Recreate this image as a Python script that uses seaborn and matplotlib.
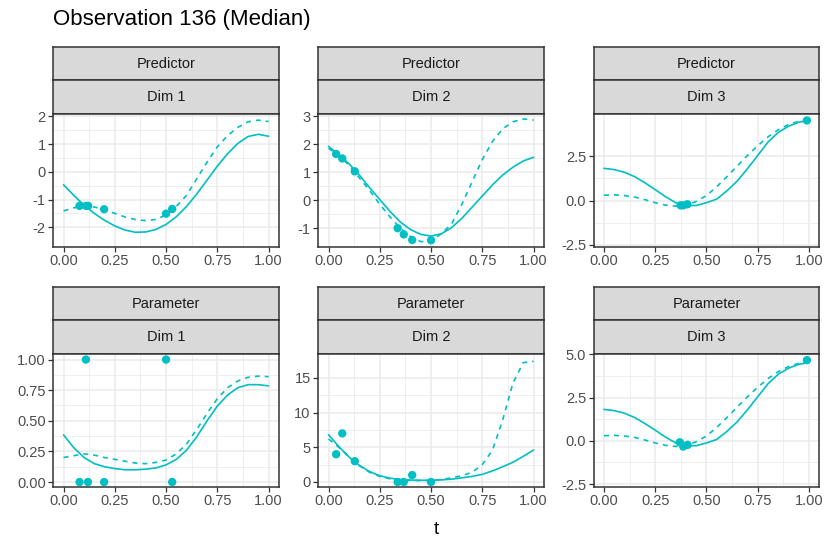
"""Observation 136 (Median): predictor and parameter curves per dimension."""

import matplotlib
matplotlib.use('Agg')
import matplotlib.pyplot as plt
import seaborn as sns
import numpy as np

sns.set_style('white')
plt.rcParams['font.family'] = ['Liberation Sans', 'DejaVu Sans']

TEAL = '#00BFC4'

t_grid = [0.00, 0.05, 0.10, 0.15, 0.20, 0.25, 0.30, 0.35, 0.40, 0.45, 0.50,
          0.55, 0.60, 0.65, 0.70, 0.75, 0.80, 0.85, 0.90, 0.95, 1.00]

# Predictor, Dim 1
pred1_solid = [-0.47, -0.85, -1.20, -1.50, -1.75, -1.95, -2.10, -2.18, -2.17, -2.08, -1.90,
               -1.62, -1.25, -0.80, -0.30, 0.20, 0.65, 1.02, 1.27, 1.35, 1.28]
pred1_dash = [-1.41, -1.30, -1.22, -1.27, -1.36, -1.50, -1.63, -1.72, -1.76, -1.72, -1.55,
              -1.25, -0.85, -0.25, 0.35, 0.90, 1.30, 1.60, 1.80, 1.86, 1.81]
pred1_pt_t = [0.078, 0.11, 0.12, 0.198, 0.50, 0.53]
pred1_pt_y = [-1.23, -1.23, -1.23, -1.35, -1.51, -1.34]

# Predictor, Dim 2
pred2_solid = [1.92, 1.62, 1.30, 0.90, 0.45, 0.02, -0.40, -0.78, -1.05, -1.22, -1.28,
               -1.20, -0.98, -0.65, -0.25, 0.15, 0.55, 0.90, 1.18, 1.40, 1.53]
pred2_dash = [1.85, 1.60, 1.25, 0.80, 0.35, -0.15, -0.60, -1.00, -1.30, -1.48, -1.45,
              -1.20, -0.85, -0.15, 0.65, 1.45, 2.10, 2.55, 2.80, 2.90, 2.86]
pred2_pt_t = [0.037, 0.067, 0.128, 0.337, 0.367, 0.408, 0.50]
pred2_pt_y = [1.65, 1.49, 1.03, -1.00, -1.22, -1.42, -1.43]

# Predictor, Dim 3
pred3_solid = [1.82, 1.75, 1.60, 1.35, 1.00, 0.62, 0.22, -0.12, -0.28, -0.28, -0.12,
               0.08, 0.55, 1.10, 1.80, 2.55, 3.30, 3.85, 4.20, 4.43, 4.53]
pred3_dash = [0.30, 0.32, 0.28, 0.20, 0.05, -0.12, -0.26, -0.32, -0.28, -0.05, 0.28,
              0.78, 1.35, 1.95, 2.55, 3.10, 3.60, 4.00, 4.30, 4.48, 4.55]
pred3_pt_t = [0.374, 0.387, 0.407, 0.99]
pred3_pt_y = [-0.27, -0.27, -0.21, 4.53]

# Parameter, Dim 1
par1_solid = [0.385, 0.28, 0.20, 0.15, 0.125, 0.11, 0.10, 0.10, 0.105, 0.115, 0.14,
              0.185, 0.26, 0.37, 0.50, 0.62, 0.71, 0.77, 0.795, 0.795, 0.785]
par1_dash = [0.20, 0.215, 0.23, 0.22, 0.20, 0.185, 0.17, 0.155, 0.15, 0.16, 0.18,
             0.23, 0.31, 0.43, 0.56, 0.68, 0.77, 0.825, 0.855, 0.865, 0.86]
par1_pt_t = [0.109, 0.50, 0.078, 0.119, 0.198, 0.53]
par1_pt_y = [1.0, 1.0, 0.0, 0.0, 0.0, 0.0]

# Parameter, Dim 2
par2_solid = [6.8, 5.1, 3.6, 2.4, 1.5, 0.9, 0.55, 0.35, 0.28, 0.25, 0.25,
              0.30, 0.40, 0.60, 0.80, 1.10, 1.60, 2.20, 2.85, 3.70, 4.60]
par2_dash = [6.2, 5.0, 3.6, 2.35, 1.4, 0.8, 0.45, 0.30, 0.22, 0.20, 0.22,
             0.35, 0.60, 0.90, 1.40, 2.50, 4.60, 9.00, 14.3, 17.2, 17.4]
par2_pt_t = [0.037, 0.067, 0.128, 0.337, 0.367, 0.408, 0.50]
par2_pt_y = [4.0, 7.0, 3.0, 0.0, 0.0, 1.0, 0.0]

# Parameter, Dim 3
par3_solid = pred3_solid
par3_dash = pred3_dash
par3_pt_t = [0.37, 0.387, 0.408, 0.99]
par3_pt_y = [-0.08, -0.33, -0.23, 4.67]

panels = [
    ('Predictor', 'Dim 1', pred1_solid, pred1_dash, pred1_pt_t, pred1_pt_y,
     [-2, -1, 0, 1, 2], ['-2', '-1', '0', '1', '2'], (-2.70, 2.085)),
    ('Predictor', 'Dim 2', pred2_solid, pred2_dash, pred2_pt_t, pred2_pt_y,
     [-1, 0, 1, 2, 3], ['-1', '0', '1', '2', '3'], (-1.66, 3.08)),
    ('Predictor', 'Dim 3', pred3_solid, pred3_dash, pred3_pt_t, pred3_pt_y,
     [-2.5, 0, 2.5], ['-2.5', '0.0', '2.5'], (-2.61, 4.90)),
    ('Parameter', 'Dim 1', par1_solid, par1_dash, par1_pt_t, par1_pt_y,
     [0, 0.25, 0.5, 0.75, 1.0], ['0.00', '0.25', '0.50', '0.75', '1.00'], (-0.038, 1.046)),
    ('Parameter', 'Dim 2', par2_solid, par2_dash, par2_pt_t, par2_pt_y,
     [0, 5, 10, 15], ['0', '5', '10', '15'], (-0.68, 18.46)),
    ('Parameter', 'Dim 3', par3_solid, par3_dash, par3_pt_t, par3_pt_y,
     [-2.5, 0, 2.5, 5.0], ['-2.5', '0.0', '2.5', '5.0'], (-2.65, 5.03)),
]

x_ticks = [0, 0.25, 0.5, 0.75, 1.0]
x_labels = ['0.00', '0.25', '0.50', '0.75', '1.00']

W, H = 830, 554
fig = plt.figure(figsize=(W / 100, H / 100), dpi=100)

col_left = [53.3, 318.3, 593.7]
col_w = 225.5
row_strip_top = [46.7, 286.7]
strip_h = 33.6
panel_h = 132.8


def box(x, y, w, h):
    """Pixel box (top-left origin) to figure fraction rect."""
    return [x / W, 1 - (y + h) / H, w / W, h / H]


def strip(x, y, label):
    sax = fig.add_axes(box(x, y, col_w, strip_h))
    sax.set_facecolor('#D9D9D9')
    sax.set_xticks([])
    sax.set_yticks([])
    for sp in sax.spines.values():
        sp.set_color('#333333')
        sp.set_linewidth(1.1)
    sax.text(0.5, 0.5, label, ha='center', va='center', fontsize=10.5,
             color='#1A1A1A', transform=sax.transAxes)


for idx, (grp, dim, solid, dash, pt_t, pt_y, yt, yl, ylim) in enumerate(panels):
    r, c = divmod(idx, 3)
    x0 = col_left[c]
    y0 = row_strip_top[r]
    strip(x0, y0, grp)
    strip(x0, y0 + strip_h, dim)

    ax = fig.add_axes(box(x0, y0 + 2 * strip_h, col_w, panel_h))
    ax.set_facecolor('white')
    sns.lineplot(x=t_grid, y=solid, ax=ax, color=TEAL, linewidth=1.2,
                 estimator=None, sort=False)
    sns.lineplot(x=t_grid, y=dash, ax=ax, color=TEAL, linewidth=1.2,
                 estimator=None, sort=False, linestyle=(0, (3, 3)))
    sns.scatterplot(x=pt_t, y=pt_y, ax=ax, color=TEAL, s=36, edgecolor='none',
                    zorder=3)

    ax.set_xlim(-0.05, 1.05)
    ax.set_ylim(*ylim)
    ax.set_xticks(x_ticks)
    ax.set_xticklabels(x_labels)
    ax.set_xticks([0.125, 0.375, 0.625, 0.875], minor=True)
    ax.set_yticks(yt)
    ax.set_yticklabels(yl)
    ax.set_yticks([(a + b) / 2 for a, b in zip(yt[:-1], yt[1:])], minor=True)
    ax.grid(True, which='major', color='#EBEBEB', linewidth=1.1, zorder=0)
    ax.grid(True, which='minor', color='#EBEBEB', linewidth=0.55, zorder=0)
    ax.set_axisbelow(True)
    ax.tick_params(which='major', length=3.5, width=0.9, color='#333333',
                   labelsize=10.5, labelcolor='#4D4D4D', pad=2,
                   bottom=True, left=True)
    ax.tick_params(which='minor', length=0)
    for sp in ax.spines.values():
        sp.set_color('#333333')
        sp.set_linewidth(1.1)
    ax.set_xlabel('')
    ax.set_ylabel('')

fig.text(53 / W, 1 - 20 / H, 'Observation 136 (Median)', fontsize=16,
         ha='left', va='center', color='black')
fig.text(436 / W, 1 - 530 / H, 't', fontsize=13.5, ha='center', va='center',
         color='black')

fig.savefig('out.png', dpi=100)
